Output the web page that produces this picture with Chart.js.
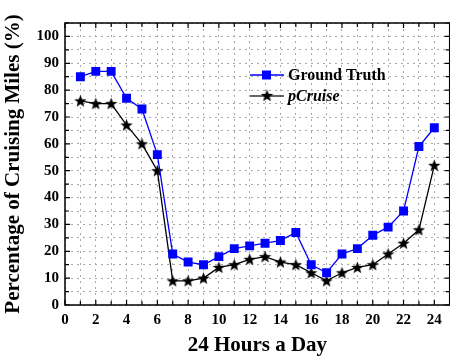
<!DOCTYPE html>
<html>
<head>
<meta charset="utf-8">
<script src="https://cdn.jsdelivr.net/npm/chart.js@4"></script>
<style>
    html, body { margin: 0; padding: 0; background: #fff; overflow: hidden; }
    #wrap { width: 456px; height: 358px; }
</style>
</head>
<body>
<div id="wrap"><canvas id="cruiseChart" width="456" height="358"></canvas></div>
<script>
const hours = [1, 2, 3, 4, 5, 6, 7, 8, 9, 10, 11, 12, 13, 14, 15, 16, 17, 18, 19, 20, 21, 22, 23, 24];
const groundTruth = [85, 87, 87, 77, 73, 56, 19, 16, 15, 18, 21, 22, 23, 24, 27, 15, 12, 19, 21, 26, 29, 35, 59, 66];
const pCruise = [76, 75, 75, 67, 60, 50, 9, 9, 10, 14, 15, 17, 18, 16, 15, 12, 9, 12, 14, 15, 19, 23, 28, 52];
const seriesNames = ['Ground Truth', 'pCruise'];

const FONT = '"Liberation Serif", "Times New Roman", serif';

// filled five point star used as the pCruise marker
function makeStar(size) {
    const c = document.createElement('canvas');
    c.width = size; c.height = size;
    const ctx = c.getContext('2d');
    const cx = size / 2, cy = size / 2 + 0.5;
    const outer = size / 2, inner = outer * 0.42;
    ctx.beginPath();
    for (let i = 0; i < 10; i++) {
        const r = i % 2 === 0 ? outer : inner;
        const a = -Math.PI / 2 + i * Math.PI / 5;
        const px = cx + r * Math.cos(a), py = cy + r * Math.sin(a);
        if (i === 0) ctx.moveTo(px, py); else ctx.lineTo(px, py);
    }
    ctx.closePath();
    ctx.fillStyle = '#000';
    ctx.fill();
    return c;
}
const starImg = makeStar(13);

// box round the plot with ticks pointing inward on all four sides
const framePlugin = {
    id: 'frame',
    afterDatasetsDraw(chart) {
        const { ctx, chartArea: a, scales } = chart;
        ctx.save();
        ctx.strokeStyle = '#000';
        ctx.lineWidth = 1.5;
        ctx.strokeRect(a.left, a.top, a.right - a.left, a.bottom - a.top);
        ctx.lineWidth = 1.2;
        ctx.beginPath();
        for (let v = 0; v <= 25; v++) {
            const x = scales.x.getPixelForValue(v);
            const len = v % 2 === 0 ? 5 : 4;
            ctx.moveTo(x, a.bottom); ctx.lineTo(x, a.bottom - len);
            ctx.moveTo(x, a.top); ctx.lineTo(x, a.top + len);
        }
        for (let v = 0; v <= 105; v += 5) {
            const y = scales.y.getPixelForValue(v);
            const len = v % 10 === 0 ? 5 : 4;
            ctx.moveTo(a.left, y); ctx.lineTo(a.left + len, y);
            ctx.moveTo(a.right, y); ctx.lineTo(a.right - len, y);
        }
        ctx.stroke();
        ctx.restore();
    }
};

const legendPlugin = {
    id: 'innerLegend',
    afterDraw(chart) {
        const { ctx } = chart;
        const rows = [
            { y: 75, color: '#0000ff', lineColor: '#0000ff', marker: 'rect', font: 'bold 16px ' + FONT },
            { y: 96, color: '#000', lineColor: '#333', marker: 'star', font: 'italic bold 16px ' + FONT }
        ];
        ctx.save();
        rows.forEach((r, i) => {
            ctx.strokeStyle = r.lineColor;
            ctx.lineWidth = 1.3;
            ctx.beginPath();
            ctx.moveTo(250, r.y); ctx.lineTo(284, r.y);
            ctx.stroke();
            if (r.marker === 'rect') {
                ctx.fillStyle = r.color;
                ctx.fillRect(262, r.y - 4.5, 9, 9);
            } else {
                ctx.drawImage(starImg, 267 - 6.5, r.y - 7);
            }
            ctx.fillStyle = '#000';
            ctx.font = r.font;
            ctx.textBaseline = 'middle';
            ctx.fillText(seriesNames[i], 288, r.y + 1);
        });
        ctx.restore();
    }
};

new Chart(document.getElementById('cruiseChart'), {
    type: 'line',
    data: {
        datasets: [{
            label: seriesNames[0],
            data: hours.map((h, i) => ({ x: h, y: groundTruth[i] })),
            borderColor: '#0000ff',
            backgroundColor: '#0000ff',
            borderWidth: 1.3,
            pointStyle: 'rect',
            pointRadius: 6.3,
            pointBorderWidth: 0,
            tension: 0
        }, {
            label: seriesNames[1],
            data: hours.map((h, i) => ({ x: h, y: pCruise[i] })),
            borderColor: '#000',
            backgroundColor: '#000',
            borderWidth: 1.3,
            pointStyle: starImg,
            tension: 0
        }]
    },
    options: {
        responsive: false,
        animation: false,
        layout: { padding: { top: 23, right: 3, left: 0, bottom: 0 } },
        plugins: {
            legend: { display: false },
            tooltip: { enabled: false }
        },
        scales: {
            x: {
                type: 'linear',
                min: 0,
                max: 25,
                afterFit: (s) => { s.height = 53; },
                afterBuildTicks: (s) => {
                    s.ticks = [];
                    for (let v = 0; v <= 25; v++) s.ticks.push({ value: v });
                },
                grid: { color: '#a8a8a8', lineWidth: 1, drawTicks: false },
                border: { display: false, dash: [2, 4] },
                ticks: {
                    padding: 6,
                    color: '#000',
                    font: { family: FONT, size: 15, weight: 'bold' },
                    maxRotation: 0,
                    autoSkip: false,
                    callback: (v) => (v % 2 === 0 && v <= 24 ? v : '')
                },
                title: {
                    display: true,
                    text: '24 Hours a Day',
                    color: '#000',
                    font: { family: FONT, size: 21, weight: 'bold' },
                    padding: { top: 0, bottom: 0 }
                }
            },
            y: {
                min: 0,
                max: 105,
                afterFit: (s) => { s.width = 65; },
                afterBuildTicks: (s) => {
                    s.ticks = [];
                    for (let v = 0; v <= 105; v += 5) s.ticks.push({ value: v });
                },
                grid: { color: '#a8a8a8', lineWidth: 1, drawTicks: false },
                border: { display: false, dash: [2, 4] },
                ticks: {
                    padding: 6,
                    color: '#000',
                    font: { family: FONT, size: 15, weight: 'bold' },
                    autoSkip: false,
                    callback: (v) => (v % 10 === 0 && v <= 100 ? v : '')
                },
                title: {
                    display: true,
                    text: 'Percentage of Cruising Miles (%)',
                    color: '#000',
                    font: { family: FONT, size: 21, weight: 'bold' },
                    padding: { top: 1, bottom: 0 }
                }
            }
        }
    },
    plugins: [framePlugin, legendPlugin]
});
</script>
</body>
</html>
